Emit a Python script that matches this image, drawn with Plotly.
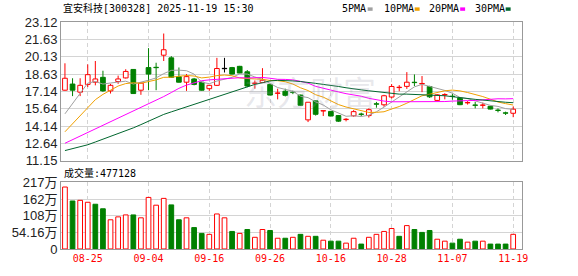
import plotly.graph_objects as go

# ---------------- data ----------------
dates = ["08-20", "08-21", "08-22", "08-25", "08-26", "08-27", "08-28", "08-29",
         "09-01", "09-02", "09-03", "09-04", "09-05", "09-08", "09-09", "09-10", "09-11", "09-12",
         "09-15", "09-16", "09-17", "09-18", "09-19", "09-22", "09-23", "09-24", "09-25", "09-26",
         "09-29", "09-30", "10-09", "10-10", "10-13", "10-14", "10-15", "10-16", "10-17",
         "10-20", "10-21", "10-22", "10-23", "10-24", "10-27", "10-28", "10-29", "10-30", "10-31",
         "11-03", "11-04", "11-05", "11-06", "11-07", "11-10", "11-11", "11-12", "11-13", "11-14",
         "11-17", "11-18", "11-19"]

opens = [17.24, 17.77, 17.07, 17.74, 17.93, 18.35, 17.18, 17.99, 18.30, 19.03,
         17.24, 19.19, 19.21, 20.26, 20.03, 18.41, 17.93, 18.21, 17.93, 17.37,
         17.66, 19.11, 19.19, 19.30, 18.83, 17.83, 17.90, 17.74, 16.97, 17.15,
         17.06, 16.82, 14.68, 16.32, 15.46, 15.41, 15.05, 14.71, 15.03, 15.18,
         15.05, 16.06, 15.98, 16.65, 17.47, 17.57, 17.92, 17.78, 17.56, 16.36,
         16.84, 16.72, 16.56, 16.15, 15.96, 15.94, 15.85, 15.52, 15.28, 15.25]
highs = [19.56, 18.27, 18.27, 19.47, 19.76, 18.92, 17.79, 18.50, 19.05, 19.05,
         17.93, 20.87, 19.61, 22.13, 20.18, 19.20, 18.63, 18.30, 17.98, 17.70,
         20.03, 20.03, 19.25, 19.34, 18.98, 18.08, 19.14, 17.80, 17.37, 17.37,
         17.20, 16.85, 16.20, 16.32, 15.46, 15.45, 15.10, 14.83, 15.52, 15.30,
         15.67, 16.23, 16.84, 17.77, 17.68, 18.80, 18.60, 18.46, 17.62, 16.90,
         16.98, 16.93, 16.60, 16.30, 16.23, 16.17, 15.90, 15.67, 15.39, 15.83]
lows = [17.20, 16.73, 16.73, 17.51, 17.66, 17.10, 16.95, 17.79, 18.25, 16.93,
        16.84, 17.24, 17.24, 19.76, 18.30, 17.90, 17.18, 17.66, 17.20, 17.18,
        17.60, 18.77, 18.60, 18.68, 17.50, 17.37, 17.88, 16.80, 16.45, 16.70,
        16.90, 15.90, 14.49, 15.05, 15.01, 15.00, 14.50, 14.55, 14.95, 15.00,
        14.88, 15.73, 15.81, 16.51, 17.15, 17.35, 17.60, 17.07, 16.57, 16.30,
        16.45, 16.42, 15.95, 16.00, 15.67, 15.67, 15.58, 15.33, 15.10, 14.91]
closes = [18.27, 17.24, 17.66, 18.58, 18.21, 17.18, 17.66, 18.21, 18.86, 16.95,
          17.85, 18.63, 19.19, 20.73, 18.35, 17.93, 18.41, 17.74, 17.24, 17.66,
          19.11, 19.11, 18.63, 18.72, 17.60, 17.85, 18.10, 16.82, 17.00, 16.80,
          17.04, 15.94, 16.20, 15.16, 15.46, 15.01, 14.57, 14.73, 15.39, 15.16,
          15.56, 16.04, 16.76, 17.56, 17.49, 17.93, 17.90, 17.82, 16.67, 16.84,
          16.86, 16.70, 15.99, 16.17, 15.94, 15.96, 15.61, 15.50, 15.26, 15.60]
volumes = [2019000, 1564000, 1585000, 1522000, 1458000, 1310000, 951000, 1046000, 1110000, 1110000,
           1015000, 1680000, 1427000, 1649000, 1437000, 951000, 1015000, 697000, 507000, 476000,
           1141000, 1015000, 571000, 507000, 634000, 380000, 634000, 602000, 349000, 349000,
           380000, 476000, 412000, 412000, 285000, 254000, 254000, 190000, 349000, 159000,
           380000, 476000, 571000, 666000, 412000, 761000, 634000, 539000, 602000, 317000,
           254000, 190000, 317000, 222000, 254000, 254000, 159000, 159000, 159000, 477128]

ma5 = [15.20, 16.09, 17.01, 17.85, 17.99, 17.77, 17.86, 17.97, 18.02, 17.77,
       17.91, 18.10, 18.30, 18.67, 18.95, 18.97, 18.92, 18.63, 17.93, 17.80,
       18.03, 18.17, 18.35, 18.65, 18.63, 18.38, 18.18, 17.82, 17.47, 17.31,
       17.15, 16.72, 16.60, 16.23, 15.96, 15.55, 15.28, 14.99, 15.03, 14.97,
       15.08, 15.38, 15.78, 16.22, 16.68, 17.16, 17.53, 17.74, 17.56, 17.43,
       17.22, 16.98, 16.61, 16.51, 16.33, 16.15, 15.93, 15.84, 15.65, 15.59]
ma10 = [13.65, 14.32, 15.08, 15.75, 16.42, 16.88, 17.22, 17.60, 17.81, 17.88,
        17.84, 17.98, 18.13, 18.35, 18.36, 18.44, 18.51, 18.46, 18.30, 18.37,
        18.50, 18.55, 18.49, 18.29, 18.22, 18.21, 18.18, 18.08, 18.06, 17.97,
        17.77, 17.45, 17.21, 16.85, 16.64, 16.35, 16.00, 15.79, 15.63, 15.47,
        15.32, 15.33, 15.38, 15.62, 15.83, 16.12, 16.45, 16.76, 16.89, 17.06,
        17.19, 17.25, 17.18, 17.04, 16.88, 16.69, 16.46, 16.22, 16.08, 15.96]
ma20 = [12.66, 12.97, 13.27, 13.57, 13.88, 14.18, 14.48, 14.78, 15.08, 15.38,
        15.70, 16.05, 16.37, 16.69, 17.04, 17.40, 17.68, 17.88, 18.06, 18.13,
        18.17, 18.26, 18.31, 18.32, 18.29, 18.32, 18.34, 18.27, 18.18, 18.17,
        18.13, 18.00, 17.85, 17.57, 17.43, 17.28, 17.09, 16.94, 16.85, 16.72,
        16.54, 16.39, 16.30, 16.24, 16.24, 16.24, 16.23, 16.28, 16.27, 16.27,
        16.26, 16.30, 16.29, 16.34, 16.36, 16.41, 16.46, 16.50, 16.49, 16.51]
ma30 = [12.03, 12.20, 12.36, 12.53, 12.77, 13.01, 13.26, 13.48, 13.71, 13.99,
        14.27, 14.57, 14.85, 15.15, 15.37, 15.59, 15.80, 16.04, 16.23, 16.42,
        16.67, 16.88, 17.11, 17.34, 17.57, 17.74, 17.88, 18.04, 18.09, 18.08,
        18.04, 17.99, 17.94, 17.83, 17.74, 17.67, 17.56, 17.45, 17.33, 17.27,
        17.19, 17.11, 17.03, 16.92, 16.90, 16.90, 16.88, 16.88, 16.86, 16.84,
        16.76, 16.68, 16.59, 16.51, 16.45, 16.39, 16.31, 16.26, 16.20, 16.16]

price_ticks = [11.15, 12.64, 14.14, 15.64, 17.14, 18.63, 20.13, 21.63, 23.12]
vol_ticks = [0, 541600, 1083200, 1624800, 2166400]
vol_tick_text = ["0", "54.16万", "108万", "162万", "217万"]
x_label_dates = ["08-25", "09-04", "09-16", "09-26", "10-16", "10-28", "11-07", "11-19"]

title_text = "宜安科技[300328] 2025-11-19 15:30"
vol_title = "成交量:477128"
ma_names = ["5PMA", "10PMA", "20PMA", "30PMA"]

# ---------------- style ----------------
RED = "#ff0000"
GREEN = "#008000"
BLACK = "#000000"
MA_COLORS = ["#a0a0a0", "#f0a000", "#ff00ff", "#00662e"]
GRID = "#d4d4d4"
FRAME = "#999999"
MONO = "DejaVu Sans Mono, Noto Sans CJK SC, monospace"
SANS = "Liberation Sans, Arial, Noto Sans CJK SC, sans-serif"
BODY_W = 0.62
MIN_BODY = 0.03

W, H = 578, 276
L, R, T, B = 56, 56, 22, 21
PW = W - L - R
PH = H - T - B


def px_x(px):
    return (px - L) / PW


def px_y(py):
    return (H - B - py) / PH


n = len(closes)
idx = list(range(n))
tick_idx = [dates.index(d) for d in x_label_dates]


def direction(i):
    if closes[i] > opens[i]:
        return "up"
    if closes[i] < opens[i]:
        return "down"
    prev = closes[i - 1] if i > 0 else opens[i]
    if closes[i] > prev:
        return "up"
    if closes[i] < prev:
        return "down"
    return "flat"


fig = go.Figure()

styles = {"up": (RED, "white"), "down": (GREEN, GREEN), "flat": (BLACK, BLACK)}
for key, (lc, fc) in styles.items():
    ids = [i for i in idx if direction(i) == key]
    if not ids:
        continue
    bases, heights, wx, wy = [], [], [], []
    for i in ids:
        lo = min(opens[i], closes[i])
        hi = max(opens[i], closes[i])
        b, h = lo, hi - lo
        if h < MIN_BODY:
            b = (lo + hi) / 2 - MIN_BODY / 2
            h = MIN_BODY
        bases.append(b)
        heights.append(h)
        wx += [i, i, None, i, i, None]
        wy += [highs[i], hi, None, lo, lows[i], None]
    fig.add_trace(go.Bar(x=ids, y=heights, base=bases, width=BODY_W,
                         marker=dict(color=fc, line=dict(color=lc, width=1)),
                         xaxis="x", yaxis="y", hoverinfo="skip"))
    fig.add_trace(go.Scatter(x=wx, y=wy, mode="lines", line=dict(color=lc, width=1),
                             xaxis="x", yaxis="y", hoverinfo="skip"))

for vals, col in zip([ma5, ma10, ma20, ma30], MA_COLORS):
    fig.add_trace(go.Scatter(x=idx, y=vals, mode="lines", line=dict(color=col, width=1),
                             xaxis="x", yaxis="y", hoverinfo="skip"))

# volume
vol_up = [i for i in idx if closes[i] >= (closes[i - 1] if i > 0 else opens[i])]
vol_dn = [i for i in idx if i not in vol_up]
fig.add_trace(go.Bar(x=vol_up, y=[volumes[i] for i in vol_up], width=BODY_W,
                     marker=dict(color="white", line=dict(color=RED, width=1)),
                     xaxis="x2", yaxis="y2", hoverinfo="skip"))
fig.add_trace(go.Bar(x=vol_dn, y=[volumes[i] for i in vol_dn], width=BODY_W,
                     marker=dict(color=GREEN, line=dict(color=GREEN, width=1)),
                     xaxis="x2", yaxis="y2", hoverinfo="skip"))

main_bottom = px_y(164.5)
vol_top = px_y(186.7)

axis_common = dict(showline=True, mirror=True, linecolor=FRAME, linewidth=1,
                   ticks="", zeroline=False)

fig.update_layout(
    width=W, height=H,
    margin=dict(l=L, r=R, t=T, b=B, pad=0),
    paper_bgcolor="white", plot_bgcolor="white",
    showlegend=False, barmode="overlay", hovermode=False,
    xaxis=dict(domain=[0, 1], anchor="y", range=[-0.52, 60.16],
               tickvals=tick_idx, showticklabels=False,
               showgrid=True, gridcolor=GRID, griddash="4px,3px", gridwidth=1,
               **axis_common),
    yaxis=dict(domain=[main_bottom, 1], anchor="x", range=[11.145, 23.125],
               tickvals=price_ticks, ticktext=[f"{v:.2f}" for v in price_ticks],
               showgrid=True, gridcolor=GRID, gridwidth=1,
               tickfont=dict(family=SANS, size=13, color="#222222"),
               **axis_common),
    xaxis2=dict(domain=[0, 1], anchor="y2", matches="x",
                tickvals=tick_idx, ticktext=x_label_dates,
                showgrid=True, gridcolor=GRID, griddash="4px,3px", gridwidth=1,
                tickfont=dict(family=MONO, size=10, color=RED),
                **axis_common),
    yaxis2=dict(domain=[0, vol_top], anchor="x2", range=[-1500, 2168000],
                tickvals=vol_ticks, ticktext=vol_tick_text,
                showgrid=True, gridcolor=GRID, gridwidth=1,
                tickfont=dict(family=SANS, size=13, color="#222222"),
                **axis_common),
)

ann = []
ann.append(dict(text=title_text, xref="paper", yref="paper", x=px_x(56), y=px_y(8),
                xanchor="left", yanchor="middle", showarrow=False,
                font=dict(family=MONO, size=10, color="#000000")))
ann.append(dict(text=vol_title, xref="paper", yref="paper", x=px_x(57), y=px_y(177.5),
                xanchor="left", yanchor="middle", showarrow=False,
                font=dict(family=MONO, size=10, color="#000000")))
legend_text_px = [338, 380, 426, 472]
legend_box_px = [366, 413.5, 459.5, 505.5]
shapes = []
for name, col, tx, bx in zip(ma_names, MA_COLORS, legend_text_px, legend_box_px):
    ann.append(dict(text=name, xref="paper", yref="paper", x=px_x(tx), y=px_y(8),
                    xanchor="left", yanchor="middle", showarrow=False,
                    font=dict(family=MONO, size=10, color="#000000")))
    shapes.append(dict(type="rect", xref="paper", yref="paper",
                       x0=px_x(bx), x1=px_x(bx + 5), y0=px_y(10.5), y1=px_y(7),
                       fillcolor=col, line=dict(width=0)))
# watermark
ann.append(dict(text="东方财富", xref="paper", yref="paper", x=px_x(308), y=px_y(93),
                xanchor="center", yanchor="middle", showarrow=False,
                font=dict(family="Noto Sans CJK SC", size=33, color="rgba(150,150,170,0.22)")))

fig.update_layout(annotations=ann, shapes=shapes)

fig.write_html("out.html", config={"displayModeBar": False})
